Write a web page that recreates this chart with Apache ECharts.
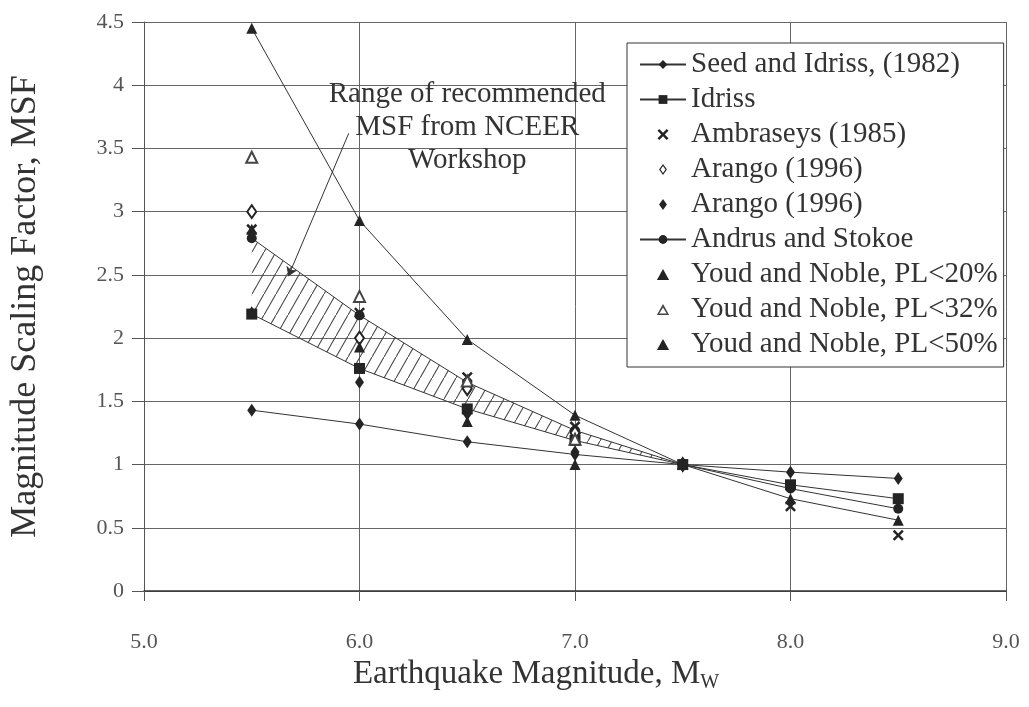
<!DOCTYPE html>
<html>
<head>
<meta charset="utf-8">
<script src="https://cdn.jsdelivr.net/npm/echarts@6/dist/echarts.min.js"></script>
<style>
html,body{margin:0;padding:0;background:#fff;}
#chart{width:1029px;height:707px;}
</style>
</head>
<body>
<div id="chart"></div>
<script>
// ---- data ----
const magnitudes    = [5.5, 6.0, 6.5, 7.0, 7.5, 8.0, 8.5];
const seedIdriss    = [1.43, 1.32, 1.18, 1.08, 1.00, 0.94, 0.89];
const idriss        = [2.19, 1.76, 1.44, 1.19, 1.00, 0.84, 0.73];
const ambraseys     = [2.86, 2.20, 1.69, 1.30, 1.00, 0.67, 0.44];
const arangoOpen    = [3.00, 2.00, 1.60, 1.25, 1.00, null, null];
const arangoFilled  = [2.20, 1.65, 1.40, 1.10, 1.00, null, null];
const andrusStokoe  = [2.79, 2.18, 1.65, 1.27, 1.00, 0.81, 0.65];
const youdPL20      = [2.86, 1.93, 1.34, 1.00, 1.00, null, null];
const youdPL32      = [3.43, 2.33, 1.66, 1.20, null, null, null];
const youdPL50      = [4.45, 2.93, 1.99, 1.39, 1.00, 0.73, 0.56];

// NCEER recommended range: between Idriss (lower) and Andrus & Stokoe (upper), Mw 5.5 - 7.5
const bandCount     = 5;

const seriesNames = [
  'Seed and Idriss, (1982)', 'Idriss', 'Ambraseys (1985)', 'Arango (1996)', 'Arango (1996) ',
  'Andrus and Stokoe', 'Youd and Noble, PL<20%', 'Youd and Noble, PL<32%', 'Youd and Noble, PL<50%'
];
const noteLines   = ['Range of recommended', 'MSF from NCEER', 'Workshop'];
const noteAnchor  = [6.5, 3.67];
const leaderFrom  = [5.95, 3.62];
const leaderTo    = [5.67, 2.49];
const xTickLabels = ['5.0', '6.0', '7.0', '8.0', '9.0'];

// ---- helpers ----
function pairs(ys) {
  const out = [];
  ys.forEach((y, i) => { if (y !== null) out.push([magnitudes[i], y]); });
  return out;
}
function hatchPattern() {
  const c = document.createElement('canvas');
  c.width = 12; c.height = 21;
  const g = c.getContext('2d');
  g.strokeStyle = '#444';
  g.lineWidth = 1.1;
  g.beginPath();
  g.moveTo(-2, 24.5); g.lineTo(14, -3.5);
  g.stroke();
  return c;
}
const HATCH = hatchPattern();

const FONT = '"Liberation Serif", "Times New Roman", serif';
const INK = '#242424';
const X_PATH = 'path://M0,1.6 L1.6,0 L5,3.4 L8.4,0 L10,1.6 L6.6,5 L10,8.4 L8.4,10 L5,6.6 L1.6,10 L0,8.4 L3.4,5 Z';
// aspect-keeping legend icons
const ICON_DIAMOND       = 'path://M5,0 L10,7 L5,14 L0,7 Z';
const ICON_OPEN_DIAMOND  = 'path://M5,0 L10,7 L5,14 L0,7 Z M5,2.6 L1.9,7 L5,11.4 L8.1,7 Z';
const ICON_TRIANGLE      = 'path://M5,0 L10,9 L0,9 Z';
const ICON_OPEN_TRIANGLE = 'path://M5,0 L10,9 L0,9 Z M5,2.8 L2,7.8 L8,7.8 Z';

const bandUpperPts = pairs(andrusStokoe).slice(0, bandCount);
const bandLowerPts = pairs(idriss).slice(0, bandCount);

const lineCommon = { type: 'line', symbolKeepAspect: true, lineStyle: { color: '#333', width: 1 }, itemStyle: { color: INK, opacity: 1 }, z: 3 };
const scatterCommon = { type: 'scatter', symbolKeepAspect: true, itemStyle: { color: INK, opacity: 1 }, z: 4 };

const chart = echarts.init(document.getElementById('chart'), null, { renderer: 'canvas' });
chart.setOption({
  animation: false,
  backgroundColor: '#ffffff',
  textStyle: { fontFamily: FONT },
  grid: { left: 144, right: 23, top: 22, bottom: 116 },
  xAxis: {
    type: 'value', min: 5, max: 9, interval: 1,
    name: 'Earthquake Magnitude, M{sub|W}',
    nameLocation: 'middle', nameGap: 62,
    nameTextStyle: {
      fontFamily: FONT, fontSize: 33, color: '#333', padding: [0, 78, 0, 0],
      rich: { sub: { fontFamily: FONT, fontSize: 20, color: '#333', padding: [16, 0, 0, 0] } }
    },
    axisLine: { show: true, lineStyle: { color: '#333', width: 1.5 } },
    axisTick: { show: true, length: 10, lineStyle: { color: '#555' } },
    axisLabel: { fontFamily: FONT, fontSize: 22, color: '#555', margin: 40,
      formatter: v => xTickLabels[Math.round(v - 5)] },
    splitLine: { show: true, lineStyle: { color: '#666', width: 1 } }
  },
  yAxis: {
    type: 'value', min: 0, max: 4.5, interval: 0.5,
    name: 'Magnitude Scaling Factor, MSF',
    nameLocation: 'middle', nameGap: 100, nameRotate: 90,
    nameTextStyle: { fontFamily: FONT, fontSize: 36, color: '#333' },
    axisLine: { show: true, lineStyle: { color: '#555', width: 1 } },
    axisTick: { show: true, length: 12, lineStyle: { color: '#555' } },
    axisLabel: { fontFamily: FONT, fontSize: 22, color: '#555', margin: 20 },
    splitLine: { show: true, lineStyle: { color: '#666', width: 1 } }
  },
  legend: {
    orient: 'vertical', left: 627, top: 43,
    backgroundColor: '#ffffff', borderColor: '#333', borderWidth: 1,
    padding: [7, 6, 8, 12],
    itemGap: 6, itemWidth: 46, itemHeight: 11,
    selectedMode: false,
    textStyle: { fontFamily: FONT, fontSize: 29, color: '#333', lineHeight: 28 },
    data: [
      seriesNames[0], seriesNames[1],
      { name: seriesNames[2], icon: X_PATH },
      { name: seriesNames[3], icon: ICON_OPEN_DIAMOND },
      { name: seriesNames[4], icon: ICON_DIAMOND },
      seriesNames[5],
      { name: seriesNames[6], icon: ICON_TRIANGLE },
      { name: seriesNames[7], icon: ICON_OPEN_TRIANGLE },
      { name: seriesNames[8], icon: ICON_TRIANGLE }
    ]
  },
  series: [
    {
      name: 'NCEER range', type: 'custom', z: 1, silent: true,
      data: [[bandLowerPts[0][0], bandLowerPts[0][1]]],
      renderItem: function (params, api) {
        const pts = bandUpperPts.map(p => api.coord(p))
          .concat(bandLowerPts.slice().reverse().map(p => api.coord(p)));
        return { type: 'polygon', shape: { points: pts },
          style: { fill: { image: HATCH, repeat: 'repeat' }, stroke: null } };
      },
      markLine: {
        silent: true, symbol: ['none', 'arrow'], symbolSize: 9,
        lineStyle: { color: '#333', width: 1, type: 'solid' },
        label: { show: false },
        data: [[{ coord: leaderFrom }, { coord: leaderTo }]]
      },
      markPoint: {
        silent: true, symbol: 'circle', symbolSize: 1,
        itemStyle: { color: 'rgba(0,0,0,0)' },
        label: { show: true, position: 'inside', formatter: noteLines.join('\n'),
          fontFamily: FONT, fontSize: 29, lineHeight: 33, color: '#333', align: 'center' },
        data: [{ coord: noteAnchor }]
      }
    },
    Object.assign({}, lineCommon, { name: seriesNames[0], data: pairs(seedIdriss), symbol: 'diamond', symbolSize: [9, 13] }),
    Object.assign({}, lineCommon, { name: seriesNames[1], data: pairs(idriss), symbol: 'rect', symbolSize: 11 }),
    Object.assign({}, scatterCommon, { name: seriesNames[2], data: pairs(ambraseys), symbol: X_PATH, symbolSize: 11 }),
    Object.assign({}, scatterCommon, { name: seriesNames[3], data: pairs(arangoOpen), symbol: 'emptyDiamond', symbolSize: [9, 13],
      itemStyle: { color: INK, borderWidth: 1.2, opacity: 1 } }),
    Object.assign({}, scatterCommon, { name: seriesNames[4], data: pairs(arangoFilled), symbol: 'diamond', symbolSize: [9, 13] }),
    Object.assign({}, lineCommon, { name: seriesNames[5], data: pairs(andrusStokoe), symbol: 'circle', symbolSize: 10 }),
    Object.assign({}, scatterCommon, { name: seriesNames[6], data: pairs(youdPL20), symbol: 'triangle', symbolSize: 11 }),
    Object.assign({}, scatterCommon, { name: seriesNames[7], data: pairs(youdPL32), symbol: 'emptyTriangle', symbolSize: 11,
      itemStyle: { color: '#444', borderWidth: 1.2, opacity: 1 } }),
    Object.assign({}, lineCommon, { name: seriesNames[8], data: pairs(youdPL50), symbol: 'triangle', symbolSize: 11 })
  ]
});
</script>
</body>
</html>
